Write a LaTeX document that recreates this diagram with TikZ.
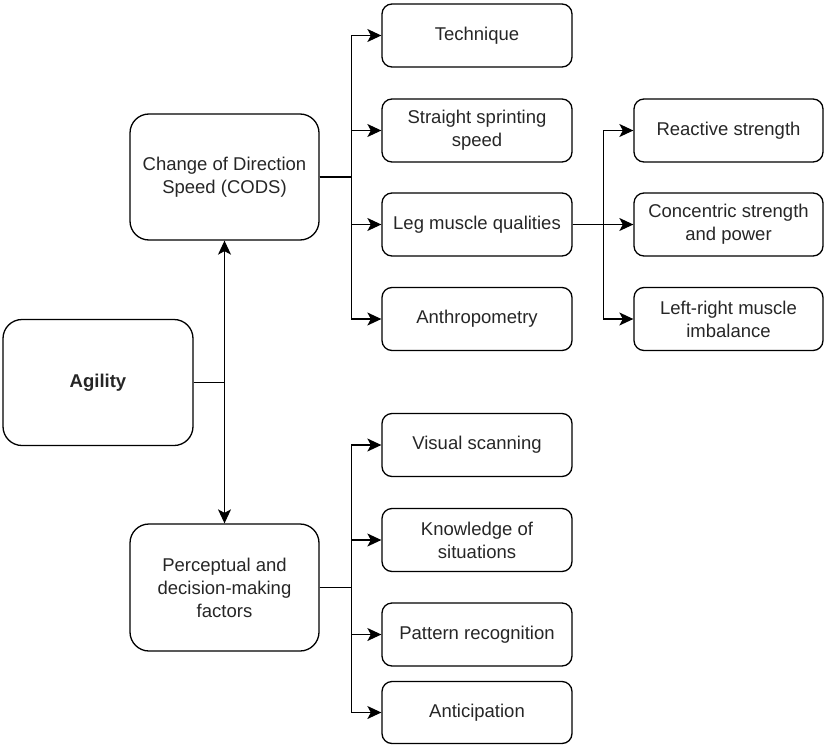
\documentclass[tikz,border=0pt]{standalone}
\usepackage{fontspec}
\setmainfont{Liberation Sans}
\usetikzlibrary{arrows.meta}
\begin{document}
\begin{tikzpicture}[x=1pt,y=-1pt,
  box/.style={draw=black, line width=1.3pt, rounded corners=10pt, minimum width=190pt, minimum height=63pt, align=center, inner sep=0pt, font=\fontsize{18.5}{23}\selectfont, text=black!85},
  bigbox/.style={box, rounded corners=19pt, minimum height=126pt},
  conn/.style={draw=black, line width=1.3pt},
  arr/.style={conn, -{Stealth[length=14pt,width=13pt,inset=3.5pt]}}
]
\useasboundingbox (0,0) rectangle (824,744);
% main nodes
\node[bigbox, font=\bfseries\fontsize{18.5}{23}\selectfont] (agility) at (98,382.5) {Agility};
\node[bigbox, minimum width=189pt] (cods) at (224.5,177) {Change of Direction\\Speed (CODS)};
\node[bigbox, minimum width=189pt, minimum height=127pt] (perc) at (224.5,587.5) {Perceptual and\\decision-making\\factors};
% column 2
\node[box] (tech) at (477,35.5) {Technique};
\node[box] (sprint) at (477,130.5) {Straight sprinting\\speed};
\node[box] (leg) at (477,224.5) {Leg muscle qualities};
\node[box] (anthro) at (477,319) {Anthropometry};
\node[box] (visual) at (477,445) {Visual scanning};
\node[box] (know) at (477,540) {Knowledge of\\situations};
\node[box] (pattern) at (477,634.5) {Pattern recognition};
\node[box, minimum height=62pt] (antic) at (477,712.5) {Anticipation};
% column 3
\node[box, minimum width=189pt] (react) at (728.5,130.5) {Reactive strength};
\node[box, minimum width=189pt] (conc) at (728.5,224.5) {Concentric strength\\and power};
\node[box, minimum width=189pt] (lr) at (728.5,319) {Left-right muscle\\imbalance};
% connectors
\draw[arr] (agility.east) -| (cods.south);
\draw[arr] (agility.east) -| (perc.north);
\foreach \t in {tech,sprint,leg,anthro}
  \draw[arr] (cods.east) -- ++(32,0) |- (\t.west);
\foreach \t in {visual,know,pattern,antic}
  \draw[arr] (perc.east) -- ++(32,0) |- (\t.west);
\foreach \t in {react,conc,lr}
  \draw[arr] (leg.east) -- ++(31,0) |- (\t.west);
\end{tikzpicture}
\end{document}
